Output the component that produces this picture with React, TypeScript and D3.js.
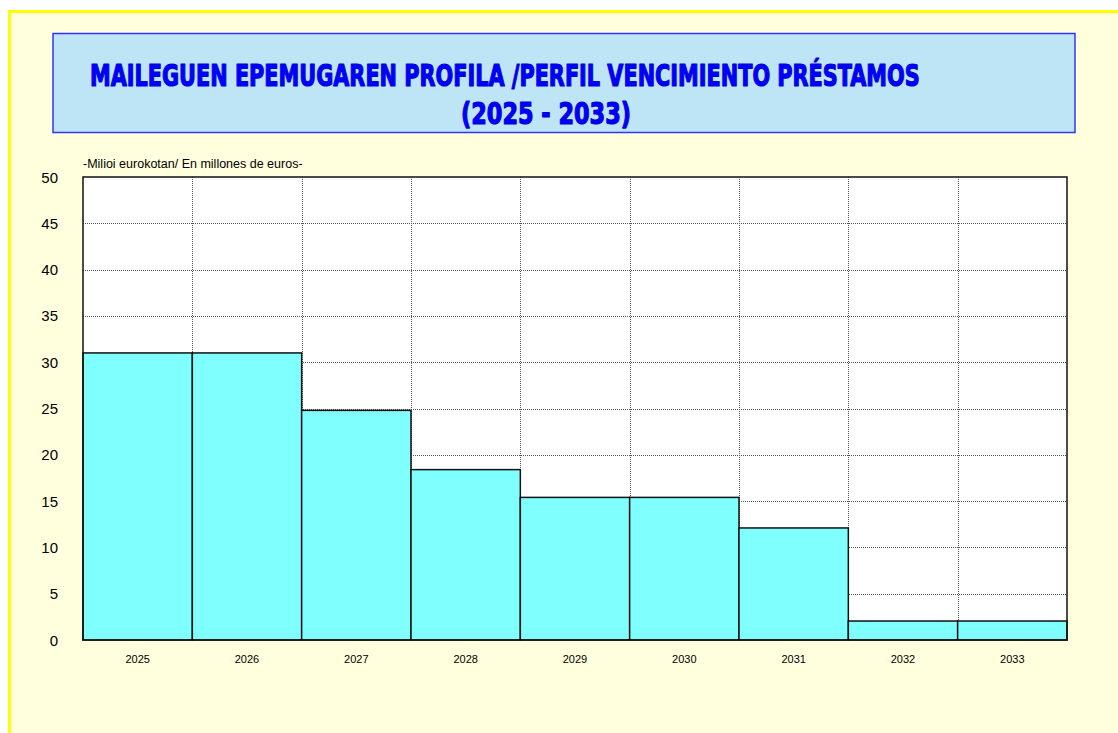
import { useEffect, useRef } from 'react';
import * as d3 from 'd3';

// maturity profile, millions of euros
const years = ['2025', '2026', '2027', '2028', '2029', '2030', '2031', '2032', '2033'];
const amounts = [31.0, 31.0, 24.8, 18.4, 15.4, 15.4, 12.1, 2.05, 2.05];
const yTicks = [0, 5, 10, 15, 20, 25, 30, 35, 40, 45, 50];

const titleLine1 = 'MAILEGUEN EPEMUGAREN PROFILA /PERFIL VENCIMIENTO PRÉSTAMOS';
const titleLine2 = '(2025 - 2033)';
const unitLabel = '-Milioi eurokotan/ En millones de euros-';

const W = 1118;
const H = 733;

const App = () => {
  const svgRef = useRef<SVGSVGElement>(null);

  useEffect(() => {
    const svg = d3.select(svgRef.current);
    svg.selectAll('*').remove();

    const plot = { left: 83, right: 1067, top: 177, bottom: 640 };

    // page background + yellow frame
    svg.append('rect').attr('width', W).attr('height', H).attr('fill', '#ffffff');
    svg.append('rect')
      .attr('x', 9.5).attr('y', 11.5)
      .attr('width', W + 20).attr('height', H + 20)
      .attr('fill', '#ffffdd')
      .attr('stroke', '#ffff00')
      .attr('stroke-width', 3);

    // title box
    svg.append('rect')
      .attr('x', 53).attr('y', 33.5)
      .attr('width', 1022).attr('height', 99)
      .attr('fill', '#bde5f6')
      .attr('stroke', '#3333ff')
      .attr('stroke-width', 1.5);

    const titleFont = "'DejaVu Sans Condensed', 'DejaVu Sans', sans-serif";
    const title = svg.append('g')
      .attr('font-family', titleFont)
      .attr('font-weight', 'bold')
      .attr('font-size', 31)
      .attr('fill', '#0000ff')
      .attr('stroke', '#0000dd')
      .attr('stroke-width', 1.2)
      .attr('stroke-linejoin', 'round');

    // squeeze each title line horizontally to the width it has in the original
    const titleLine = (txt: string, x0: number, y0: number, width: number) => {
      const t = title.append('text').text(txt);
      const natural = (t.node() as SVGTextElement).getComputedTextLength() || width;
      t.attr('transform', `translate(${x0},${y0}) scale(${width / natural},1)`);
    };
    titleLine(titleLine1, 90, 86, 830);
    titleLine(titleLine2, 461, 124, 170);

    const x = d3.scaleBand().domain(years).range([plot.left, plot.right]).padding(0);
    const y = d3.scaleLinear().domain([0, 50]).range([plot.bottom, plot.top]);

    // plot area
    svg.append('rect')
      .attr('x', plot.left).attr('y', plot.top)
      .attr('width', plot.right - plot.left).attr('height', plot.bottom - plot.top)
      .attr('fill', '#ffffff');

    // horizontal grid
    svg.append('g')
      .selectAll('line')
      .data(yTicks.slice(1, -1))
      .enter().append('line')
      .attr('x1', plot.left).attr('x2', plot.right)
      .attr('y1', d => Math.round(y(d)) + 0.5).attr('y2', d => Math.round(y(d)) + 0.5)
      .attr('stroke', '#555')
      .attr('stroke-dasharray', '1,1');

    // vertical grid at category boundaries
    svg.append('g')
      .selectAll('line')
      .data(years.slice(1))
      .enter().append('line')
      .attr('x1', d => Math.round(x(d)!) + 0.5).attr('x2', d => Math.round(x(d)!) + 0.5)
      .attr('y1', plot.top).attr('y2', plot.bottom)
      .attr('stroke', '#555')
      .attr('stroke-dasharray', '1,1');

    // bars
    svg.append('g')
      .selectAll('rect')
      .data(years)
      .enter().append('rect')
      .attr('x', d => x(d)!)
      .attr('y', (d, i) => y(amounts[i]))
      .attr('width', x.bandwidth())
      .attr('height', (d, i) => plot.bottom - y(amounts[i]))
      .attr('fill', '#80ffff')
      .attr('stroke', '#111')
      .attr('stroke-width', 1.5);

    // plot frame
    svg.append('rect')
      .attr('x', plot.left).attr('y', plot.top)
      .attr('width', plot.right - plot.left).attr('height', plot.bottom - plot.top)
      .attr('fill', 'none')
      .attr('stroke', '#111')
      .attr('stroke-width', 1.5);

    // y tick labels
    svg.append('g')
      .selectAll('text')
      .data(yTicks)
      .enter().append('text')
      .attr('x', 58)
      .attr('y', d => y(d) + 5.5)
      .attr('text-anchor', 'end')
      .attr('font-family', "'Liberation Sans', Arial, sans-serif")
      .attr('font-size', 15)
      .attr('fill', '#000')
      .text(d => d);

    // x labels
    svg.append('g')
      .selectAll('text')
      .data(years)
      .enter().append('text')
      .attr('x', d => x(d)! + x.bandwidth() / 2)
      .attr('y', 663)
      .attr('text-anchor', 'middle')
      .attr('font-family', "'Liberation Sans', Arial, sans-serif")
      .attr('font-size', 11)
      .attr('fill', '#000')
      .text(d => d);

    svg.append('text')
      .attr('x', 83).attr('y', 168)
      .attr('font-family', "'Liberation Sans', Arial, sans-serif")
      .attr('font-size', 12.5)
      .attr('fill', '#000')
      .text(unitLabel);
  }, []);

  return (
    <svg
      ref={svgRef}
      width={W}
      height={H}
      style={{ position: 'absolute', left: 0, top: 0, display: 'block' }}
    />
  );
};

export default App;
